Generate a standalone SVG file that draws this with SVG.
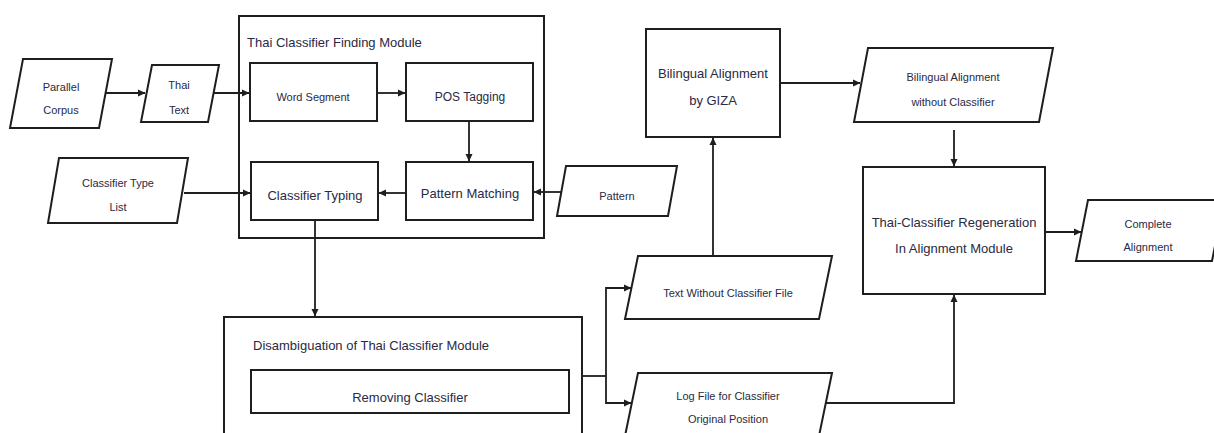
<svg xmlns="http://www.w3.org/2000/svg" width="1214" height="433" viewBox="0 0 1214 433">
<style>
.b{fill:#fff;stroke:#1e1e1e;stroke-width:2}
.m{fill:none;stroke:#1e1e1e;stroke-width:2}
.c{fill:none;stroke:#1e1e1e;stroke-width:1.8}
.a{marker-end:url(#ah)}
text{font-family:"Liberation Sans",Arial,sans-serif;fill:#2a2a44}
.t13{font-size:13px}
.t12{font-size:12px}
.t11{font-size:11px}
.mid{text-anchor:middle}
</style>
<defs>
<marker id="ah" markerWidth="8" markerHeight="8" refX="7" refY="4" orient="auto" markerUnits="userSpaceOnUse">
<path d="M0,0.5 L7.5,4 L0,7.5 Z" fill="#1e1e1e"/>
</marker>
</defs>
<rect width="1214" height="433" fill="#fff"/>

<g id="connectors">
<line class="c a" x1="105" y1="93" x2="145" y2="93"/>
<line class="c a" x1="213" y1="93" x2="249" y2="93"/>
<line class="c a" x1="377" y1="93" x2="405" y2="93"/>
<line class="c a" x1="469" y1="121" x2="469" y2="161"/>
<line class="c a" x1="406" y1="193" x2="379" y2="193"/>
<line class="c a" x1="561" y1="192" x2="534" y2="192"/>
<line class="c a" x1="184" y1="193" x2="250" y2="193"/>
<line class="c a" x1="315" y1="220" x2="315" y2="316"/>
<line class="c a" x1="780" y1="83" x2="860" y2="83"/>
<line class="c a" x1="954" y1="130" x2="954" y2="166"/>
<line class="c a" x1="713" y1="256" x2="713" y2="138"/>
<polyline class="c" points="582,376 606,376"/>
<polyline class="c a" points="606,376 606,288 631,288"/>
<polyline class="c a" points="606,376 606,403 631,403"/>
<polyline class="c a" points="826,403 954,403 954,295"/>
<line class="c a" x1="1045" y1="232" x2="1081" y2="232"/>
</g>

<g id="parallel-corpus">
<polygon class="b" points="23,59 112,59 99,128 10,128"/>
<text class="t11 mid" x="61" y="91">Parallel</text>
<text class="t11 mid" x="61" y="114">Corpus</text>
</g>

<g id="thai-text">
<polygon class="b" points="152,65 219,65 208,122 141,122"/>
<text class="t11 mid" x="179" y="89">Thai</text>
<text class="t11 mid" x="179" y="114">Text</text>
</g>

<g id="classifier-type-list">
<polygon class="b" points="59,158 188,158 177,223 48,223"/>
<text class="t11 mid" x="118" y="187">Classifier Type</text>
<text class="t11 mid" x="118" y="211">List</text>
</g>

<g id="finding-module">
<rect class="m" x="239" y="16" width="305" height="222"/>
<text class="t13" x="247" y="47">Thai Classifier Finding Module</text>
</g>

<g id="word-segment">
<rect class="b" x="250" y="63" width="127" height="58"/>
<text class="t11 mid" x="313" y="101">Word Segment</text>
</g>

<g id="pos-tagging">
<rect class="b" x="406" y="63" width="127" height="58"/>
<text class="t12 mid" x="470" y="101">POS Tagging</text>
</g>

<g id="classifier-typing">
<rect class="b" x="251" y="162" width="127" height="58"/>
<text class="t13 mid" x="315" y="200">Classifier Typing</text>
</g>

<g id="pattern-matching">
<rect class="b" x="406" y="162" width="127" height="58"/>
<text class="t13 mid" x="470" y="198">Pattern Matching</text>
</g>

<g id="pattern">
<polygon class="b" points="566,166 677,166 668,216 557,216"/>
<text class="t11 mid" x="617" y="200">Pattern</text>
</g>

<g id="disambiguation-module">
<rect class="m" x="224" y="317" width="358" height="130"/>
<text class="t13" x="253" y="350">Disambiguation of Thai Classifier Module</text>
</g>

<g id="removing-classifier">
<rect class="b" x="251" y="370" width="318" height="43"/>
<text class="t13 mid" x="410" y="402">Removing Classifier</text>
</g>

<g id="giza">
<rect class="b" x="646" y="29" width="134" height="108"/>
<text class="t13 mid" x="713" y="78">Bilingual Alignment</text>
<text class="t13 mid" x="713" y="105">by GIZA</text>
</g>

<g id="bilingual-without">
<polygon class="b" points="868,48 1053,48 1039,122 854,122"/>
<text class="t11 mid" x="953" y="81">Bilingual Alignment</text>
<text class="t11 mid" x="953" y="106">without Classifier</text>
</g>

<g id="text-without">
<polygon class="b" points="638,256 832,256 819,319 625,319"/>
<text class="t11 mid" x="728" y="297">Text Without Classifier File</text>
</g>

<g id="log-file">
<polygon class="b" points="638,373 832,373 819,436 625,436"/>
<text class="t11 mid" x="728" y="400">Log File for Classifier</text>
<text class="t11 mid" x="728" y="423">Original Position</text>
</g>

<g id="regeneration">
<rect class="b" x="863" y="167" width="182" height="127"/>
<text class="t13 mid" x="954" y="227">Thai-Classifier Regeneration</text>
<text class="t13 mid" x="954" y="253">In Alignment Module</text>
</g>

<g id="complete-alignment">
<polygon class="b" points="1088,200 1224,200 1212,261 1076,261"/>
<text class="t11 mid" x="1148" y="228">Complete</text>
<text class="t11 mid" x="1148" y="251">Alignment</text>
</g>
</svg>
